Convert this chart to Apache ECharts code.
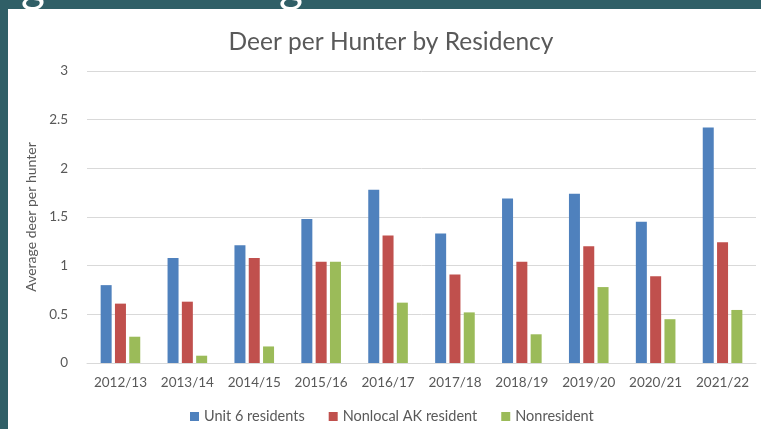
<!DOCTYPE html>
<html>
<head>
<meta charset="utf-8">
<script src="https://cdn.jsdelivr.net/npm/echarts@6/dist/echarts.min.js"></script>
<style>
html,body{margin:0;padding:0;background:#fff;}
#c{width:761px;height:429px;}
</style>
</head>
<body>
<div id="c"></div>
<script>
var categories = ['2012/13','2013/14','2014/15','2015/16','2016/17','2017/18','2018/19','2019/20','2020/21','2021/22'];
var unit6Residents = [0.80,1.08,1.21,1.48,1.78,1.33,1.69,1.74,1.45,2.42];
var nonlocalAK = [0.61,0.63,1.08,1.04,1.31,0.91,1.04,1.20,0.89,1.24];
var nonresident = [0.27,0.075,0.17,1.04,0.62,0.52,0.295,0.78,0.45,0.545];
var seriesNames = ['Unit 6 residents','Nonlocal AK resident','Nonresident'];
var titleText = 'Deer per Hunter by Residency';
var yAxisTitle = 'Average deer per hunter';

var chart = echarts.init(document.getElementById('c'));
var font = 'Lato';
var teal = '#305f67';
chart.setOption({
  backgroundColor: '#ffffff',
  animation: false,
  title: {
    text: titleText, left: 386, top: 25, textAlign: 'center',
    textStyle: {fontFamily: font, fontSize: 24.5, fontWeight: 'normal', color: '#595959'}
  },
  legend: {
    data: seriesNames, left: 185, top: 404, itemWidth: 9, itemHeight: 9, itemGap: 24,
    icon: 'rect',
    textStyle: {fontFamily: font, fontSize: 14.5, color: '#595959'}
  },
  grid: {left: 87, right: 5, top: 71, bottom: 66},
  xAxis: {
    type: 'category', data: categories,
    axisLine: {lineStyle: {color: '#d9d9d9'}},
    axisTick: {show: false},
    axisLabel: {fontFamily: font, fontSize: 13.5, color: '#595959', margin: 13, interval: 0}
  },
  yAxis: {
    type: 'value', min: 0, max: 3, interval: 0.5,
    name: yAxisTitle, nameLocation: 'middle', nameGap: 39, nameRotate: 90,
    nameTextStyle: {fontFamily: font, fontSize: 14, color: '#595959'},
    axisLabel: {fontFamily: font, fontSize: 13.5, color: '#595959', margin: 19},
    splitLine: {lineStyle: {color: '#d9d9d9', width: 1}},
    axisLine: {show: false}, axisTick: {show: false}
  },
  series: [
    {name: seriesNames[0], type: 'bar', data: unit6Residents, barWidth: 11, barGap: '30%', itemStyle: {color: '#4f81bd'}},
    {name: seriesNames[1], type: 'bar', data: nonlocalAK, barWidth: 11, barGap: '30%', itemStyle: {color: '#c0504d'}},
    {name: seriesNames[2], type: 'bar', data: nonresident, barWidth: 11, barGap: '30%', itemStyle: {color: '#9bbb59'}}
  ],
  graphic: [
    {type: 'rect', left: 0, top: 0, shape: {width: 761, height: 9}, style: {fill: teal}, z: 100},
    {type: 'rect', left: 0, top: 0, shape: {width: 8, height: 429}, style: {fill: teal}, z: 100},
    {type: 'text', x: 21, y: -36, style: {text: 'g', font: '46px Lato', fill: '#ffffff'}, z: 101},
    {type: 'text', x: 279, y: -36, style: {text: 'g', font: '46px Lato', fill: '#ffffff'}, z: 101}
  ]
});
</script>
</body>
</html>
